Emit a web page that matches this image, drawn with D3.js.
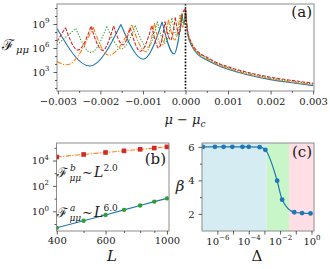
<!DOCTYPE html>
<html lang="en">
<head>
<meta charset="UTF-8">
<title>Fisher information panels</title>
<script src="https://d3js.org/d3.v7.min.js"></script>
<style>
  body { margin: 0; background: #fff; }
  svg text { font-family: "DejaVu Serif", serif; fill: #1a1a1a; }
</style>
</head>
<body>
<svg width="330" height="269"></svg>
<script>
// ---- panel (a): F_mumu against mu - mu_c (cusps for mu<0, decay for mu>0)
const blueMu   = [-0.00302, -0.00225, -0.00152, -0.00099, -0.00055, -0.00027, -0.00008, -0.000035, 0];
const blueF    = [2.8e8, 5.6e3, 8.9e8, 4.0e4, 1.8e9, 1.8e5, 1.26e10, 1e9, 5e10];
const orangeMu = [-0.00302, -0.00279, -0.00217, -0.0018, -0.00126, -0.00092, -0.00073, -0.00056, -0.0004, -0.00025, -0.00013, -0.000064, 0];
const orangeF  = [2e4, 7.9e3, 4e8, 1.26e5, 7.9e8, 3.2e5, 1.26e9, 2e6, 3.2e9, 1e7, 1.26e10, 4e8, 5.6e10];
const greenMu  = [-0.00302, -0.002577, -0.00222, -0.00185, -0.0015, -0.00118, -0.00089, -0.00066, -0.00048, -0.00032, -0.0002, -0.000095, -0.00004, 0];
const greenF   = [2.5e6, 2.8e8, 2.8e5, 5e8, 8e5, 6.3e8, 1.26e6, 2e9, 4e6, 5.6e9, 3.2e7, 2e10, 8e8, 6.3e10];
const redMu    = [-0.00302, -0.00282, -0.00253, -0.00222, -0.00195, -0.00169, -0.00147, -0.0013, -0.00106, -0.00079, -0.00063, -0.00048, -0.00035, -0.00024, -0.00015, -0.00007, 0];
const redF     = [6.3e6, 3.5e8, 5.6e5, 5e8, 5e5, 5.6e8, 2.5e6, 3.2e8, 4e5, 6.3e8, 1e6, 2e9, 1e7, 6.3e9, 5e7, 2e10, 8e10];

const rightMu     = [0.00005, 0.00015, 0.0003, 0.0005, 0.00075, 0.001, 0.0015, 0.002, 0.0025, 0.003];
const blueRight   = [6.3e7, 1.6e6, 1.4e5, 3.2e4, 7.1e3, 2.2e3, 400, 112, 45, 20];
const orangeRight = [8.9e7, 2.2e6, 2e5, 4.5e4, 8.9e3, 2.8e3, 500, 141, 56, 25];
const greenRight  = [1.1e8, 2.8e6, 2.5e5, 5.6e4, 1.1e4, 3.5e3, 630, 178, 71, 32];
const redRight    = [1.4e8, 3.5e6, 3.2e5, 7.1e4, 1.4e4, 4.5e3, 800, 224, 89, 40];

const muTicks = [-0.003, -0.002, -0.001, 0, 0.001, 0.002, 0.003];
const muMinor = [-0.0025, -0.0015, -0.0005, 0.0005, 0.0015, 0.0025];
const fTicksA = [1e3, 1e6, 1e9];
const fMinorA = [1e1, 1e2, 1e4, 1e5, 1e7, 1e8, 1e10, 1e11];

// ---- panel (b): scaling with L
const sizes = [400, 500, 600, 700, 800, 900, 1000];
const fB    = [1.9e4, 3.0e4, 4.3e4, 5.8e4, 7.6e4, 9.6e4, 1.19e5];
const fA    = [0.05, 0.18, 0.52, 1.3, 2.9, 5.8, 10.5];
const lTicks = [400, 600, 1000];
const lMinor = [500, 700, 800, 900];
const fTicksB = [1e0, 1e2, 1e4];
const fMinorB = [1e-1, 1e1, 1e3, 1e5];

// ---- panel (c): exponent beta against Delta
const deltas = [1.2e-7, 7e-7, 2.5e-6, 9e-6, 4e-5, 1e-4, 5e-4, 1.15e-3, 6.5e-3, 1.35e-2, 8e-2, 0.25, 0.87];
const betas  = [6.0, 6.0, 6.0, 6.0, 6.0, 6.0, 5.98, 5.82, 3.98, 2.85, 2.1, 2.05, 2.03];
const regionEdges  = [1.4e-3, 0.037];
const regionColors = ["#d6ecf3", "#c8f6c8", "#ffdfe5"];
const dTicks = [1e-6, 1e-4, 1e-2, 1];
const dOther = [1e-5, 1e-3, 1e-1];
const bTicks = [2, 4, 6];
const bMinor = [3, 5];

const svg = d3.select("svg");

const xA = d3.scaleLinear().domain([-0.00302, 0.00302]).range([57, 314]);
const yA = d3.scaleLog().domain([10 ** 0.625, 10 ** 11.5]).range([91, 4]);
const xB = d3.scaleLog().domain([399, 1017]).range([56.5, 169]);
const yB = d3.scaleLog().domain([10 ** -1.55, 10 ** 5.38]).range([231, 143]);
const xC = d3.scaleLog().domain([1.05e-7, 1.45]).range([202, 314]);
const yC = d3.scaleLinear().domain([0.98, 6.23]).range([231, 143]);

function powLabel(t, v) {
  const e = Math.round(Math.log10(v));
  t.text(null);
  t.append("tspan").text("10");
  t.append("tspan").attr("font-size", 7).attr("dy", -4.5).text(e < 0 ? "\u2212" + (-e) : e);
}

function addAxis(orient, scale, pos, major, minor, labelFn, minorSize, pad) {
  const make = orient === "bottom" ? d3.axisBottom : d3.axisLeft;
  const g = svg.append("g")
    .attr("transform", orient === "bottom" ? `translate(0,${pos})` : `translate(${pos},0)`);
  g.append("g").call(make(scale).tickValues(minor).tickSize(minorSize || 2).tickFormat(""));
  const maj = g.append("g").call(make(scale).tickValues(major).tickSize(3.5)
    .tickPadding(pad || (orient === "bottom" ? 3 : 4)).tickFormat(""));
  maj.selectAll(".tick text").each(function (d) { labelFn(d3.select(this), d); });
  g.selectAll(".domain").remove();
  g.selectAll("line").attr("stroke", "#333").attr("stroke-width", 0.8);
  g.selectAll("text").attr("font-size", 10);
}

function frame(x0, y0, x1, y1, id) {
  svg.append("clipPath").attr("id", id).append("rect")
    .attr("x", x0).attr("y", y0).attr("width", x1 - x0).attr("height", y1 - y0);
  return svg.append("g").attr("clip-path", `url(#${id})`);
}

function spines(x0, y0, x1, y1) {
  svg.append("rect").attr("x", x0).attr("y", y0).attr("width", x1 - x0).attr("height", y1 - y0)
    .attr("fill", "none").attr("stroke", "#8c8c8c").attr("stroke-width", 1);
}

// ================= panel (a)
const gA = frame(57, 4, 314, 91, "clipA");
const seriesA = [
  { mu: blueMu, f: blueF, right: blueRight, color: "#1f77b4", dash: null },
  { mu: orangeMu, f: orangeF, right: orangeRight, color: "#ff7f0e", dash: "5,1.5,1.2,1.5" },
  { mu: greenMu, f: greenF, right: greenRight, color: "#2ca02c", dash: "1.2,1.6" },
  { mu: redMu, f: redF, right: redRight, color: "#d62728", dash: "3.5,1.5" }
];
const lineA = d3.line().x(d => xA(d[0])).y(d => yA(d[1])).curve(d3.curveMonotoneX);

seriesA.forEach(s => {
  const pts = s.mu.map((m, i) => [m, s.f[i]]).concat(rightMu.map((m, i) => [m, s.right[i]]));
  // split into pieces at the cusps (local maxima) so tips stay sharp
  let start = 0;
  const pieces = [];
  for (let i = 1; i < pts.length - 1; i++) {
    if (pts[i][1] > pts[i - 1][1] && pts[i][1] > pts[i + 1][1]) {
      pieces.push(pts.slice(start, i + 1));
      start = i;
    }
  }
  pieces.push(pts.slice(start));
  pieces.forEach(p => {
    gA.append("path").attr("d", lineA(p)).attr("fill", "none")
      .attr("stroke", s.color).attr("stroke-width", 1.1)
      .attr("stroke-dasharray", s.dash);
  });
});

gA.append("line").attr("x1", xA(0)).attr("x2", xA(0)).attr("y1", 4).attr("y2", 91)
  .attr("stroke", "#000").attr("stroke-width", 1.6).attr("stroke-dasharray", "1.6,1.6");

spines(57, 4, 314, 91);
addAxis("bottom", xA, 91, muTicks, muMinor, (t, d) => t.text(d3.format(".3f")(d)));
addAxis("left", yA, 57, fTicksA, fMinorA, powLabel);

svg.append("text").attr("x", 312).attr("y", 17).attr("text-anchor", "end")
  .attr("font-size", 15).text("(a)");
svg.append("text").attr("x", 2).attr("y", 50).attr("font-size", 15).text("\u2131");
svg.append("text").attr("x", 16).attr("y", 53).attr("font-size", 10)
  .attr("font-style", "italic").text("μμ");
const xl = svg.append("text").attr("x", 185).attr("y", 124).attr("text-anchor", "middle")
  .attr("font-size", 13).attr("font-style", "italic");
xl.append("tspan").text("μ \u2212 μ");
xl.append("tspan").attr("font-size", 9).attr("dy", 3).text("c");

// ================= panel (b)
const gB = frame(56.5, 143, 169, 231, "clipB");
const lineB = d3.line().x(d => xB(d[0])).y(d => yB(d[1]));
gB.append("path").attr("d", lineB(sizes.map((l, i) => [l, fB[i]])))
  .attr("fill", "none").attr("stroke", "#ff7f0e").attr("stroke-width", 1.1)
  .attr("stroke-dasharray", "5,1.5,1.2,1.5");
gB.append("path").attr("d", lineB(sizes.map((l, i) => [l, fA[i]])))
  .attr("fill", "none").attr("stroke", "#1f77b4").attr("stroke-width", 1.1);
gB.selectAll("rect.sq").data(sizes).enter().append("rect").attr("class", "sq")
  .attr("x", d => xB(d) - 2.3).attr("y", (d, i) => yB(fB[i]) - 2.3)
  .attr("width", 4.6).attr("height", 4.6).attr("fill", "#d62728");
gB.selectAll("circle").data(sizes).enter().append("circle")
  .attr("cx", d => xB(d)).attr("cy", (d, i) => yB(fA[i])).attr("r", 2.2).attr("fill", "#2ca02c");

spines(56.5, 143, 169, 231);
addAxis("bottom", xB, 231, lTicks, lMinor, (t, d) => t.text(d), 2, 2);
addAxis("left", yB, 56.5, fTicksB, fMinorB, powLabel);

svg.append("text").attr("x", 166).attr("y", 164).attr("text-anchor", "end")
  .attr("font-size", 15).text("(b)");

function scaling(y, sup, expo) {
  svg.append("text").attr("x", 57).attr("y", y).attr("font-size", 13).text("\u2131");
  svg.append("text").attr("x", 70).attr("y", y - 6).attr("font-size", 9).attr("font-style", "italic").text(sup);
  svg.append("text").attr("x", 69.5).attr("y", y + 4).attr("font-size", 9).attr("font-style", "italic").text("μμ");
  svg.append("text").attr("x", 82).attr("y", y).attr("font-size", 13).text("\u223c");
  svg.append("text").attr("x", 94).attr("y", y).attr("font-size", 14).attr("font-style", "italic").text("L");
  svg.append("text").attr("x", 103.5).attr("y", y - 6).attr("font-size", 9).text(expo);
}
scaling(177, "b", "2.0");
scaling(217, "a", "6.0");
svg.append("text").attr("x", 112).attr("y", 261).attr("text-anchor", "middle")
  .attr("font-size", 15).attr("font-style", "italic").text("L");

// ================= panel (c)
const gC = frame(202, 143, 314, 231, "clipC");
const edges = [xC.domain()[0]].concat(regionEdges, [xC.domain()[1]]);
regionColors.forEach((c, i) => {
  gC.append("rect").attr("x", xC(edges[i])).attr("y", 143)
    .attr("width", xC(edges[i + 1]) - xC(edges[i])).attr("height", 88).attr("fill", c);
});
const lineC = d3.line().x(d => xC(d[0])).y(d => yC(d[1])).curve(d3.curveMonotoneX);
gC.append("path").attr("d", lineC(deltas.map((d, i) => [d, betas[i]])))
  .attr("fill", "none").attr("stroke", "#1f77b4").attr("stroke-width", 1.2);
gC.selectAll("circle").data(deltas).enter().append("circle")
  .attr("cx", d => xC(d)).attr("cy", (d, i) => yC(betas[i])).attr("r", 2.4).attr("fill", "#1f77b4");

spines(202, 143, 314, 231);
addAxis("bottom", xC, 231, dTicks, dOther, powLabel, 3.5, 3);
addAxis("left", yC, 202, bTicks, bMinor, (t, d) => t.text(d));

svg.append("text").attr("x", 312).attr("y", 157).attr("text-anchor", "end")
  .attr("font-size", 15).text("(c)");
svg.append("text").attr("x", 180).attr("y", 191).attr("text-anchor", "middle")
  .attr("font-size", 15).attr("font-style", "italic").text("β");
svg.append("text").attr("x", 257).attr("y", 261).attr("text-anchor", "middle")
  .attr("font-size", 15).text("Δ");
</script>
</body>
</html>
